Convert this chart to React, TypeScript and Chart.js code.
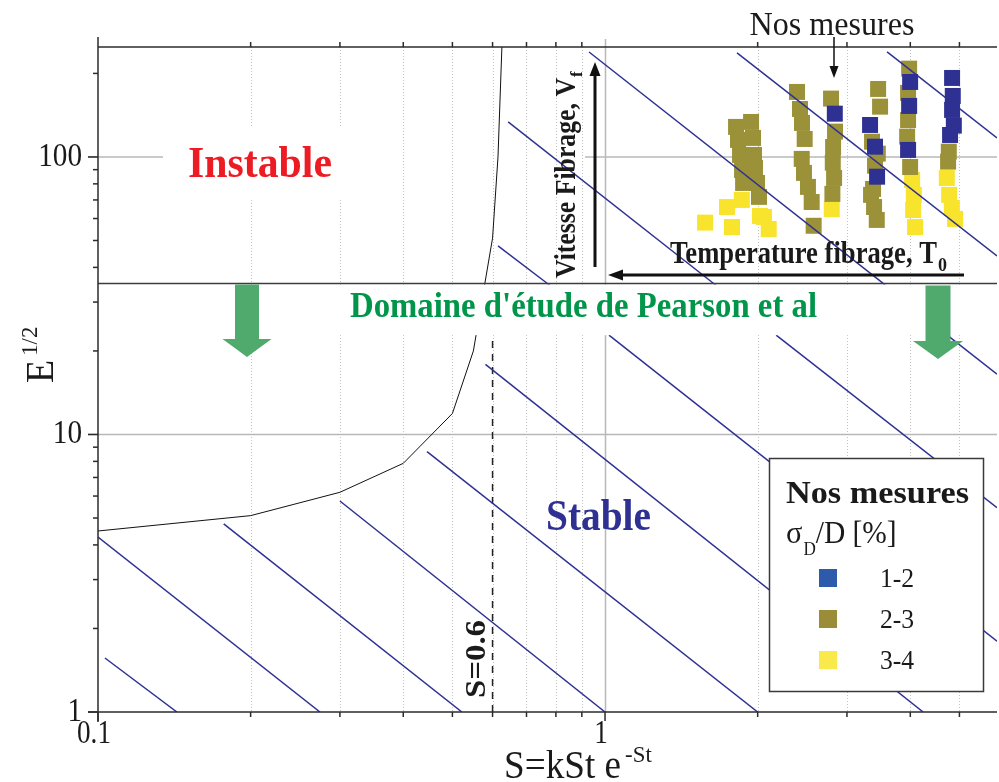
import React, { useEffect, useRef } from 'react';
import { Chart, registerables } from 'chart.js';

Chart.register(...registerables);

const SERIF = '"Liberation Serif", "Times New Roman", serif';

// ---------- axes ----------
const S_MIN = 0.1;
const S_MAX = 5.93;
const E_MIN = 1;
const E_MAX = 249;
const sTicks = [0.1, 0.2, 0.3, 0.4, 0.5, 0.6, 0.7, 0.8, 0.9, 1, 2, 3, 4, 5];
const sMajor = [0.1, 1];
const sTickLabels = ['0.1', '1'];
const eTicks = [1, 2, 3, 4, 5, 6, 7, 8, 9, 10, 20, 30, 40, 50, 60, 70, 80, 90, 100, 200];
const eMajor = [1, 10, 100];
const eTickLabels = ['1', '10', '100'];

// Pearson et al. study domain limits (E^1/2)
const BAND_TOP_E = 35;
const BAND_BOTTOM_E = 22.8;

// ---------- stability boundary ----------
const boundaryS = [0.1, 0.2, 0.3, 0.4, 0.5, 0.55, 0.6, 0.615, 0.626];
const boundaryE = [4.49, 5.1, 6.19, 7.87, 11.9, 20, 51, 100, 249];

// S = 0.6 limit
const limitS = [0.6, 0.6];
const limitE = [1, 22.8];

// ---------- iso lines (blue) ----------
const isoStartS = [0.1032, 0.1, 0.177, 0.3, 0.4456, 0.581, 1.018, 2.175, 4.73, 0.93, 0.644, 0.615, 1.821, 3.6];
const isoStartE = [1.565, 4.27, 4.76, 5.76, 8.67, 17.9, 22.8, 22.8, 22.8, 238.9, 133.7, 47.8, 237.1, 239];
const isoEndS = [0.1431, 0.274, 0.522, 1.0, 2.0, 4.24, 5.93, 5.93, 5.93, 3.567, 1.671, 0.786, 5.93, 5.93];
const isoEndE = [1, 1, 1, 1, 1, 1, 1.8, 5.45, 16.5, 34.6, 34.0, 34.0, 44.0, 117.1];

// ---------- measurements ----------
const blueS = [2.839, 3.332, 3.408, 3.44, 3.997, 3.979, 3.96, 4.836, 4.851, 4.836, 4.874, 4.792];
const blueE = [143.2, 130.4, 108.9, 84.9, 186.3, 152.7, 106.0, 192.6, 165.9, 147.7, 129.7, 120.0];

const oliveS = [1.813, 1.941, 1.829, 1.958, 1.846, 1.967, 1.863, 1.976, 1.872, 1.994, 2.012,
  2.391, 2.424, 2.446, 2.476, 2.443, 2.468, 2.513, 2.556, 2.579,
  2.791, 2.842, 2.817, 2.813, 2.83, 2.808,
  3.456, 3.487, 3.362, 3.451, 3.408, 3.378, 3.347, 3.393, 3.435,
  3.979, 3.96, 3.96, 3.943, 3.997,
  4.764, 4.749];
const oliveE = [128.3, 133.7, 115.2, 117.1, 101.7, 101.7, 89.8, 91.3, 80.6, 80.6, 71.8,
  171.5, 148.9, 132.6, 116.1, 98.4, 87.6, 78.0, 68.8, 56.5,
  162.3, 123.4, 108.6, 95.4, 84.0, 73.6,
  175.8, 151.8, 113.5, 102.8, 93.0, 76.7, 73.0, 66.0, 59.3,
  208.1, 170.1, 135.9, 118.4, 92.0,
  104.5, 96.2];

const yellowS = [1.575, 1.74, 1.78, 1.861, 2.021, 2.058, 2.103, 2.8, 4.033, 4.064, 4.052, 4.088, 4.721, 4.771, 4.83, 4.902];
const yellowE = [58.0, 66.0, 55.9, 70.0, 61.3, 60.8, 55.0, 64.9, 82.6, 73.0, 64.4, 55.9, 84.0, 73.0, 65.5, 59.8];

const seriesLabels = ['1-2', '2-3', '3-4'];
const seriesColors = ['#2e3192', '#9b9138', '#f8e42c'];
const legendColors = ['#2d5aaa', '#9b8c37', '#fae94b'];

const zip = (xs: number[], ys: number[]) => xs.map((x, i) => ({ x, y: ys[i] }));

function buildDatasets(): any[] {
  const ds: any[] = [];
  isoStartS.forEach((_, i) => {
    ds.push({
      data: [{ x: isoStartS[i], y: isoStartE[i] }, { x: isoEndS[i], y: isoEndE[i] }],
      showLine: true, borderColor: '#2e3192', borderWidth: 1.5, pointRadius: 0,
    });
  });
  ds.push({ data: zip(boundaryS, boundaryE), showLine: true, borderColor: '#111', borderWidth: 1, pointRadius: 0 });
  ds.push({ data: zip(limitS, limitE), showLine: true, borderColor: '#222', borderWidth: 1.5, borderDash: [7, 6], pointRadius: 0 });
  const pts = [[blueS, blueE], [oliveS, oliveE], [yellowS, yellowE]];
  pts.forEach(([s, e], i) => {
    ds.push({
      label: seriesLabels[i], data: zip(s, e), showLine: false,
      pointStyle: 'rect', pointRadius: 11.3, pointBackgroundColor: seriesColors[i],
      pointBorderWidth: 0, backgroundColor: seriesColors[i], borderWidth: 0,
    });
  });
  return ds;
}

// ---------- drawing helpers ----------
function seg(ctx: CanvasRenderingContext2D, x1: number, y1: number, x2: number, y2: number) {
  ctx.beginPath(); ctx.moveTo(x1, y1); ctx.lineTo(x2, y2); ctx.stroke();
}

type TOpt = { size: number; weight?: string; color?: string; align?: CanvasTextAlign; width?: number; rot?: number; sx?: number };
function txt(ctx: CanvasRenderingContext2D, s: string, x: number, y: number, o: TOpt) {
  ctx.save();
  ctx.font = `${o.weight || 'normal'} ${o.size}px ${SERIF}`;
  ctx.fillStyle = o.color || '#1a1a1a';
  ctx.textBaseline = 'alphabetic';
  ctx.translate(x, y);
  if (o.rot) ctx.rotate(o.rot);
  const w = ctx.measureText(s).width;
  const sx = o.width ? o.width / w : (o.sx || 1);
  ctx.scale(sx, 1);
  ctx.textAlign = o.align || 'left';
  ctx.fillText(s, 0, 0);
  ctx.restore();
  return w * sx;
}

function arrow(ctx: CanvasRenderingContext2D, x1: number, y1: number, x2: number, y2: number, lw: number, hl: number, hh: number, color: string) {
  const a = Math.atan2(y2 - y1, x2 - x1);
  const bx = x2 - hl * Math.cos(a), by = y2 - hl * Math.sin(a);
  ctx.save();
  ctx.strokeStyle = color; ctx.fillStyle = color; ctx.lineWidth = lw;
  seg(ctx, x1, y1, bx, by);
  ctx.beginPath();
  ctx.moveTo(x2, y2);
  ctx.lineTo(bx + hh * Math.sin(a), by - hh * Math.cos(a));
  ctx.lineTo(bx - hh * Math.sin(a), by + hh * Math.cos(a));
  ctx.closePath(); ctx.fill();
  ctx.restore();
}

function blockArrow(ctx: CanvasRenderingContext2D, cx: number, yTop: number, yHead: number, yTip: number, hw: number, HW: number, color: string) {
  ctx.save();
  ctx.fillStyle = color;
  ctx.beginPath();
  ctx.moveTo(cx - hw, yTop); ctx.lineTo(cx + hw, yTop); ctx.lineTo(cx + hw, yHead);
  ctx.lineTo(cx + HW, yHead); ctx.lineTo(cx, yTip); ctx.lineTo(cx - HW, yHead);
  ctx.lineTo(cx - hw, yHead); ctx.closePath(); ctx.fill();
  ctx.restore();
}

const decorPlugin = {
  id: 'decor',
  beforeDatasetsDraw(chart: any) {
    const ctx: CanvasRenderingContext2D = chart.ctx;
    const xs = chart.scales.x, ys = chart.scales.y;
    const { left, right, top, bottom } = chart.chartArea;
    ctx.save();
    for (const v of sTicks) {
      if (v === S_MIN) continue;
      const p = Math.round(xs.getPixelForValue(v)) + 0.5;
      if (sMajor.includes(v)) {
        ctx.setLineDash([]); ctx.strokeStyle = '#b8b8b8'; ctx.lineWidth = 1.5;
        seg(ctx, p, top - 8, p, bottom);
      } else {
        ctx.setLineDash([1, 2]); ctx.strokeStyle = '#c2c2c2'; ctx.lineWidth = 1;
        seg(ctx, p, top, p, bottom);
      }
    }
    ctx.setLineDash([]);
    ctx.strokeStyle = '#b8b8b8'; ctx.lineWidth = 1.5;
    const p10 = ys.getPixelForValue(10);
    seg(ctx, left - 10, p10, right, p10);
    const p100 = ys.getPixelForValue(100);
    seg(ctx, left - 10, p100, 163, p100);
    seg(ctx, 585, p100, right, p100);
    ctx.fillStyle = '#fff';
    ctx.fillRect(165, 128, 195, 70);
    ctx.restore();
  },
  afterDatasetsDraw(chart: any) {
    const ctx: CanvasRenderingContext2D = chart.ctx;
    const xs = chart.scales.x, ys = chart.scales.y;
    const { left, right, top, bottom } = chart.chartArea;
    ctx.save();
    // Pearson band
    const b0 = ys.getPixelForValue(BAND_TOP_E), b1 = ys.getPixelForValue(BAND_BOTTOM_E);
    ctx.fillStyle = '#fff';
    ctx.fillRect(left + 1, b0 + 1, right - left, b1 - b0 - 1);
    ctx.strokeStyle = '#3c3c3c'; ctx.lineWidth = 1.5;
    seg(ctx, left, b0, right, b0);
    // frame
    ctx.strokeStyle = '#2b2b2b'; ctx.lineWidth = 1.5;
    seg(ctx, left, top, right, top);
    seg(ctx, left, top - 10, left, bottom + 10);
    seg(ctx, left - 10, bottom, right, bottom);
    // y ticks
    for (const v of eTicks) {
      const p = ys.getPixelForValue(v);
      const len = eMajor.includes(v) ? 10 : 5;
      seg(ctx, left - len, p, left, p);
      if (eTickLabels.includes(String(v))) {
        txt(ctx, String(v), left - 16, p + 9, { size: 34, align: 'right', sx: 0.86 });
      }
    }
    // x ticks
    for (const v of sTicks) {
      const p = xs.getPixelForValue(v);
      const major = sMajor.includes(v);
      seg(ctx, p, bottom, p, bottom + (major ? 9 : 5));
      if (!major) seg(ctx, p, top - 5, p, top);
      if (sTickLabels.includes(String(v))) {
        txt(ctx, String(v), p - 4, bottom + 31, { size: 34, align: 'center', sx: 0.8 });
      }
    }
    // axis titles
    {
      const w = txt(ctx, 'S=kSt e', 504, 778, { size: 40, sx: 0.93 });
      txt(ctx, '-St', 504 + w + 4, 762, { size: 24, sx: 0.95 });
    }
    {
      ctx.save();
      ctx.translate(53, 383);
      ctx.rotate(-Math.PI / 2);
      const w = txt(ctx, 'E', 0, 0, { size: 40, sx: 0.95 });
      txt(ctx, '1/2', w + 4, -16, { size: 24, sx: 0.95 });
      ctx.restore();
    }
    // green arrows
    blockArrow(ctx, 247, b0 + 1, 339, 357, 12, 24.5, '#50aa6e');
    blockArrow(ctx, 938, b0 + 2, 341, 359, 12.5, 25, '#50aa6e');
    // region texts
    txt(ctx, "Domaine d'étude de Pearson et al", 350, 317, { size: 36, weight: 'bold', color: '#00964a', width: 467 });
    txt(ctx, 'Instable', 188, 177, { size: 44, weight: 'bold', color: '#ed1c24', width: 144 });
    txt(ctx, 'Stable', 546, 530, { size: 44, weight: 'bold', color: '#2e3192', width: 105 });
    txt(ctx, 'S=0.6', 485, 698, { size: 30, weight: 'bold', rot: -Math.PI / 2, width: 78 });
    // Nos mesures annotation
    txt(ctx, 'Nos mesures', 832, 35, { size: 34, align: 'center', width: 165 });
    arrow(ctx, 834, 37, 834, 78, 1.5, 12, 4.5, '#111');
    // Vitesse fibrage
    {
      ctx.save();
      ctx.translate(575, 278);
      ctx.rotate(-Math.PI / 2);
      const w = txt(ctx, 'Vitesse Fibrage, V', 0, 0, { size: 30, weight: 'bold', width: 200 });
      txt(ctx, 'f', w + 1, 7, { size: 17, weight: 'bold' });
      ctx.restore();
    }
    arrow(ctx, 595, 267, 595, 62, 3, 14, 5.5, '#111');
    // Temperature fibrage
    {
      const w = txt(ctx, 'Temperature fibrage, T', 670, 263, { size: 32, weight: 'bold', width: 267 });
      txt(ctx, '0', 670 + w + 1, 271, { size: 18, weight: 'bold' });
    }
    arrow(ctx, 964, 275, 608, 275, 3, 15, 5.5, '#111');
    // legend
    ctx.fillStyle = '#fff';
    ctx.fillRect(769, 458, 215, 234);
    ctx.strokeStyle = '#3a3a3a'; ctx.lineWidth = 1.5;
    ctx.strokeRect(769.5, 458.5, 214, 233);
    txt(ctx, 'Nos mesures', 786, 503, { size: 32, weight: 'bold', width: 183 });
    {
      let x = 786;
      x += txt(ctx, 'σ', x, 543, { size: 32, sx: 0.95 });
      x += txt(ctx, 'D', x + 1, 555, { size: 18, sx: 0.95 }) + 1;
      txt(ctx, '/D [%]', x, 543, { size: 32, sx: 0.92 });
    }
    const rows = [578, 619, 660];
    seriesLabels.forEach((lab, i) => {
      ctx.fillStyle = legendColors[i];
      ctx.fillRect(819, rows[i] - 9, 18, 18);
      txt(ctx, lab, 880, rows[i] + 9, { size: 27, sx: 0.95 });
    });
    ctx.restore();
  },
};

export default function App() {
  const ref = useRef<HTMLCanvasElement>(null);
  useEffect(() => {
    const canvas = ref.current!;
    const chart = new Chart(canvas, {
      type: 'scatter',
      data: { datasets: buildDatasets() },
      options: {
        responsive: false,
        animation: false,
        devicePixelRatio: 1,
        events: [],
        layout: { autoPadding: false, padding: { left: 98, right: 2, top: 47, bottom: 70 } },
        scales: {
          x: { type: 'logarithmic', min: S_MIN, max: S_MAX, display: false },
          y: { type: 'logarithmic', min: E_MIN, max: E_MAX, display: false },
        },
        plugins: { legend: { display: false }, tooltip: { enabled: false } },
      } as any,
      plugins: [decorPlugin],
    });
    return () => chart.destroy();
  }, []);
  return (
    <div style={{ position: 'absolute', left: 0, top: 0, width: 999, height: 782, background: '#fff' }}>
      <canvas ref={ref} width={999} height={782} style={{ width: 999, height: 782, display: 'block' }} />
    </div>
  );
}
